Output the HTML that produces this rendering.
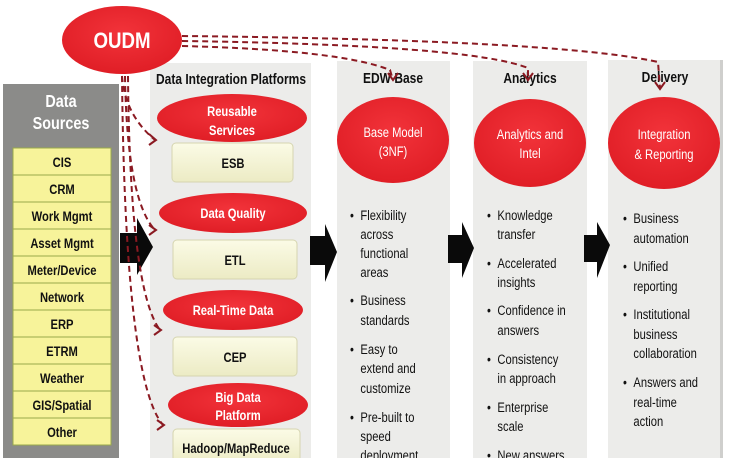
<!DOCTYPE html>
<html><head><meta charset="utf-8"><style>
html,body{margin:0;padding:0;background:#fff;width:735px;height:458px;overflow:hidden}
svg{display:block}
text{font-family:"Liberation Sans",sans-serif}
.b{font-weight:bold}
.w{fill:#fff;font-weight:bold;font-size:14px}
.y{fill:#111;font-weight:bold;font-size:14px}
.t{fill:#111;font-size:14px}
</style></head><body>
<svg width="735" height="458" viewBox="0 0 735 458" xmlns="http://www.w3.org/2000/svg">
<defs>
<radialGradient id="rg" cx="50%" cy="40%" r="60%"><stop offset="0" stop-color="#f2333a"/><stop offset="1" stop-color="#e01e26"/></radialGradient>
<linearGradient id="yg" x1="0" y1="0" x2="0" y2="1"><stop offset="0" stop-color="#fbfbe6"/><stop offset="1" stop-color="#ecebc4"/></linearGradient>
</defs>
<rect x="3" y="84" width="116" height="374" fill="#8b8b89"/>
<rect x="150" y="63" width="161" height="395" fill="#ececea"/>
<rect x="337" y="61" width="113" height="397" fill="#ececea"/>
<rect x="473" y="61" width="114" height="397" fill="#ececea"/>
<rect x="608" y="60" width="114" height="398" fill="#ececea"/>
<rect x="720" y="60" width="3" height="398" fill="#cfcfcd"/>

<g text-anchor="middle" class="b" fill="#fff" font-size="18">
<text transform="translate(61,107) scale(.8,1)">Data</text>
<text transform="translate(61,129) scale(.8,1)">Sources</text>
</g>
<g stroke="#9aa84a" stroke-width="1" fill="#f7f39a">
<rect x="13" y="148" width="98" height="27"/><rect x="13" y="175" width="98" height="27"/><rect x="13" y="202" width="98" height="27"/><rect x="13" y="229" width="98" height="27"/><rect x="13" y="256" width="98" height="27"/><rect x="13" y="283" width="98" height="27"/><rect x="13" y="310" width="98" height="27"/><rect x="13" y="337" width="98" height="27"/><rect x="13" y="364" width="98" height="27"/><rect x="13" y="391" width="98" height="27"/><rect x="13" y="418" width="98" height="27"/>
</g>
<g text-anchor="middle" class="y">
<text transform="translate(62,167) scale(.8,1)">CIS</text><text transform="translate(62,194) scale(.8,1)">CRM</text><text transform="translate(62,221) scale(.8,1)">Work Mgmt</text><text transform="translate(62,248) scale(.8,1)">Asset Mgmt</text><text transform="translate(62,275) scale(.8,1)">Meter/Device</text><text transform="translate(62,302) scale(.8,1)">Network</text><text transform="translate(62,329) scale(.8,1)">ERP</text><text transform="translate(62,356) scale(.8,1)">ETRM</text><text transform="translate(62,383) scale(.8,1)">Weather</text><text transform="translate(62,410) scale(.8,1)">GIS/Spatial</text><text transform="translate(62,437) scale(.8,1)">Other</text>
</g>

<g text-anchor="middle" class="b" fill="#111" font-size="15">
<text transform="translate(231,84) scale(.8,1)">Data Integration Platforms</text>
<text transform="translate(393,83) scale(.8,1)">EDW Base</text>
<text transform="translate(530,83) scale(.8,1)">Analytics</text>
<text transform="translate(665,82) scale(.8,1)">Delivery</text>
</g>

<ellipse cx="232" cy="118" rx="75" ry="24" fill="url(#rg)"/>
<ellipse cx="233" cy="213" rx="74" ry="20" fill="url(#rg)"/>
<ellipse cx="233" cy="310" rx="70" ry="20" fill="url(#rg)"/>
<ellipse cx="238" cy="405" rx="70" ry="22" fill="url(#rg)"/>
<rect x="172" y="143" width="121" height="39" rx="4" fill="url(#yg)" stroke="#d6d5b0"/>
<rect x="173" y="240" width="124" height="39" rx="4" fill="url(#yg)" stroke="#d6d5b0"/>
<rect x="173" y="337" width="124" height="39" rx="4" fill="url(#yg)" stroke="#d6d5b0"/>
<rect x="173" y="429" width="127" height="35" rx="4" fill="url(#yg)" stroke="#d6d5b0"/>
<g text-anchor="middle" class="w" font-size="15">
<text transform="translate(232,116) scale(.8,1)">Reusable</text>
<text transform="translate(232,135) scale(.8,1)">Services</text>
<text transform="translate(233,218) scale(.8,1)">Data Quality</text>
<text transform="translate(233,315) scale(.8,1)">Real-Time Data</text>
<text transform="translate(238,402) scale(.8,1)">Big Data</text>
<text transform="translate(238,420) scale(.8,1)">Platform</text>
</g>
<g text-anchor="middle" class="y" font-size="15">
<text transform="translate(233,168) scale(.8,1)">ESB</text>
<text transform="translate(235,265) scale(.8,1)">ETL</text>
<text transform="translate(235,362) scale(.8,1)">CEP</text>
<text transform="translate(236,453) scale(.8,1)">Hadoop/MapReduce</text>
</g>

<ellipse cx="393" cy="140" rx="56" ry="43" fill="url(#rg)"/>
<ellipse cx="530" cy="143" rx="56" ry="44" fill="url(#rg)"/>
<ellipse cx="664" cy="143" rx="56" ry="46" fill="url(#rg)"/>
<g text-anchor="middle" fill="#fff" font-size="14">
<text transform="translate(393,137) scale(.8,1)">Base Model</text>
<text transform="translate(393,156) scale(.8,1)">(3NF)</text>
<text transform="translate(530,139) scale(.8,1)">Analytics and</text>
<text transform="translate(530,158) scale(.8,1)">Intel</text>
<text transform="translate(664,139) scale(.8,1)">Integration</text>
<text transform="translate(664,159) scale(.8,1)">&amp; Reporting</text>
</g>

<g class="t" font-size="15">
<g transform="translate(350,0) scale(.8,1)">
<text x="0" y="220">•</text><text x="13" y="220">Flexibility</text><text x="13" y="239">across</text><text x="13" y="258">functional</text><text x="13" y="277">areas</text>
<text x="0" y="305">•</text><text x="13" y="305">Business</text><text x="13" y="325">standards</text>
<text x="0" y="354">•</text><text x="13" y="354">Easy to</text><text x="13" y="373">extend and</text><text x="13" y="393">customize</text>
<text x="0" y="422">•</text><text x="13" y="422">Pre-built to</text><text x="13" y="441">speed</text><text x="13" y="460">deployment</text>
</g>
<g transform="translate(487,0) scale(.8,1)">
<text x="0" y="220">•</text><text x="13" y="220">Knowledge</text><text x="13" y="239">transfer</text>
<text x="0" y="268">•</text><text x="13" y="268">Accelerated</text><text x="13" y="287">insights</text>
<text x="0" y="315">•</text><text x="13" y="315">Confidence in</text><text x="13" y="335">answers</text>
<text x="0" y="364">•</text><text x="13" y="364">Consistency</text><text x="13" y="383">in approach</text>
<text x="0" y="412">•</text><text x="13" y="412">Enterprise</text><text x="13" y="431">scale</text>
<text x="0" y="460">•</text><text x="13" y="460">New answers</text>
</g>
<g transform="translate(623,0) scale(.8,1)">
<text x="0" y="223">•</text><text x="13" y="223">Business</text><text x="13" y="243">automation</text>
<text x="0" y="271">•</text><text x="13" y="271">Unified</text><text x="13" y="291">reporting</text>
<text x="0" y="319">•</text><text x="13" y="319">Institutional</text><text x="13" y="339">business</text><text x="13" y="358">collaboration</text>
<text x="0" y="387">•</text><text x="13" y="387">Answers and</text><text x="13" y="407">real-time</text><text x="13" y="426">action</text>
</g>
</g>

<g fill="#0a0a0a">
<polygon points="120,233 137,233 137,218 153,247 137,275 137,263 120,263"/>
<polygon points="310,236 325,236 325,224 337,252 325,282 325,265 310,265"/>
<polygon points="448,235 462,235 462,222 474,248 462,278 462,263 448,263"/>
<polygon points="584,235 597,235 597,222 610,245 597,278 597,262 584,262"/>
</g>

<ellipse cx="122" cy="40" rx="60" ry="34" fill="url(#rg)"/>
<text transform="translate(122,48) scale(.85,1)" text-anchor="middle" class="b" fill="#fff" font-size="22">OUDM</text>

<g fill="none" stroke="#8b1a22" stroke-width="2" stroke-dasharray="6,4">
<path d="M182,36 Q560,40 658,62 L660,88"/>
<path d="M182,41 Q470,45 528,68 L528,80"/>
<path d="M182,46 Q340,50 390,70 L393,80"/>
<path d="M122,76 Q125,115 155,140"/>
<path d="M125,76 Q127,200 155,230"/>
<path d="M128,76 Q130,290 160,330"/>
<path d="M122,76 Q125,380 163,425"/>
</g>
<g fill="none" stroke="#8b1a22" stroke-width="2">
<polyline points="149,134 156,140 149,145"/>
<polyline points="149,225 156,230 149,235"/>
<polyline points="154,325 161,330 154,335"/>
<polyline points="157,420 164,425 157,430"/>
<polyline points="655,82 660,89 665,82"/>
<polyline points="523,73 528,80 533,73"/>
<polyline points="388,73 393,80 398,73"/>
</g>
</svg>
</body></html>
